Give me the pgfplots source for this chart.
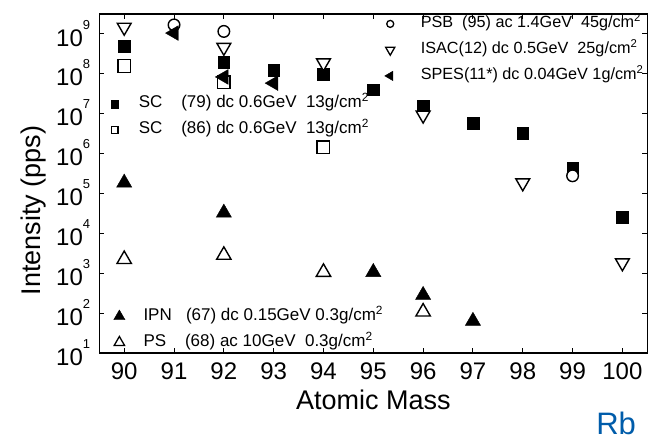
\documentclass[border=0pt]{standalone}
\usepackage{pgfplots}
\pgfplotsset{compat=1.18}
\usepackage{fontspec}
\setmainfont{Liberation Sans}
\definecolor{rbblue}{RGB}{0,92,170}

\begin{document}
\begin{tikzpicture}
\useasboundingbox (-99.3pt,-87pt) rectangle (558.7pt,353pt);

% SC series, frame, ticks and labels
\begin{axis}[scale only axis, width=548pt, height=339pt, at={(0pt,0pt)}, anchor=south west,
  xmin=89.5, xmax=100.5, ymode=log, log basis y=10, ymin=10, ymax=3e9, clip=false,
  legend cell align=left,
  legend style={draw=none, fill=none, inner sep=0pt, column sep=20.5pt,
    font=\fontsize{17}{17}\selectfont, row sep=12pt,
    nodes={inner sep=0pt, text height=11pt, text depth=3pt},
    at={(0.0205,0.756)}, anchor=north west},
  xtick={90,91,92,93,94,95,96,97,98,99,100},
  ytick={1e1,1e2,1e3,1e4,1e5,1e6,1e7,1e8,1e9},
  /pgf/number format/assume math mode=true,
  axis line style={line width=1.3pt},
  tick style={black, line width=0.9pt},
  major tick length=5pt, minor tick length=3pt,
  xticklabel style={font=\fontsize{24}{24}\selectfont, inner sep=0pt, anchor=north, yshift=-10pt},
  yticklabel style={font=\fontsize{24}{24}\selectfont, inner sep=0pt, anchor=east, xshift=-9pt},
  yticklabel={10\raisebox{17pt}{\fontsize{13}{13}\selectfont\pgfmathparse{int(round(\tick))}\pgfmathresult}},
  xlabel={Atomic Mass},
  ylabel={Intensity (pps)},
  xlabel style={font=\fontsize{27}{27}\selectfont, at={(axis description cs:0.5,-0.139)}, anchor=center},
  ylabel style={font=\fontsize{27}{27}\selectfont, at={(axis description cs:-0.12,0.42)}, anchor=center},
]
\addlegendimage{only marks, mark=square*, mark size=3.8pt, mark options={draw=black, fill=black}}
\addlegendentry{SC\ \ \ \ (79) dc 0.6GeV\ \ 13g/cm\textsuperscript{2}}
\addlegendimage{only marks, mark=square*, mark size=3.4pt, mark options={draw=black, fill=white, line width=1.2pt}}
\addlegendentry{SC\ \ \ \ (86) dc 0.6GeV\ \ 13g/cm\textsuperscript{2}}

\addplot[only marks, mark=square*, mark size=5.8pt, mark options={draw=black, fill=black, line width=0.4pt}, forget plot] coordinates {
  (90,4.7e8) (92,1.9e8) (93,1.2e8) (94,9.5e7) (95,3.8e7)
  (96,1.5e7) (97,5.5e6) (98,3.1e6) (99,4.2e5) (100,2.5e4)};
\addplot[only marks, mark=square*, mark size=6.3pt, mark options={draw=black, fill=white, line width=1.4pt}, forget plot] coordinates {
  (90,1.5e8) (92,5.9e7) (94,1.4e6)};

\node[text=rbblue, font=\fontsize{31}{31}\selectfont, anchor=center] at (rel axis cs:0.943,-0.208) {Rb};
\end{axis}

% PSB, ISAC, SPES
\begin{axis}[scale only axis, width=548pt, height=339pt, at={(0pt,0pt)}, anchor=south west,
  xmin=89.5, xmax=100.5, ymode=log, log basis y=10, ymin=10, ymax=3e9, clip=false,
  hide axis, legend cell align=left,
  legend style={draw=none, fill=none, inner sep=0pt, column sep=26pt,
    font=\fontsize{16.2}{16.2}\selectfont, row sep=12pt,
    nodes={inner sep=0pt, text height=11pt, text depth=3pt},
    at={(0.5205,0.992)}, anchor=north west}]
\addlegendimage{only marks, mark=*, mark size=3.5pt, mark options={draw=black, fill=white, line width=1.3pt}}
\addlegendentry{PSB\ \ (95) ac 1.4GeV\ \ 45g/cm\textsuperscript{2}}
\addlegendimage{only marks, mark=triangle*, mark size=5.3pt, mark options={rotate=180, draw=black, fill=white, line width=1.3pt}}
\addlegendentry{ISAC(12) dc 0.5GeV\ \ 25g/cm\textsuperscript{2}}
\addlegendimage{only marks, mark=triangle*, mark size=5.5pt, mark options={rotate=90, draw=black, fill=black}}
\addlegendentry{SPES(11*) dc 0.04GeV 1g/cm\textsuperscript{2}}

\addplot[only marks, mark=*, mark size=5.8pt, mark options={draw=black, fill=white, line width=1.4pt}, forget plot] coordinates {
  (91,1.6e9) (92,1.1e9) (99,2.7e5)};
\addplot[only marks, mark=triangle*, mark size=8pt, mark options={rotate=180, draw=black, fill=white, line width=1.4pt}, forget plot] coordinates {
  (90,1.4e9) (92,4.4e8) (94,1.8e8) (96,8.9e6) (98,1.8e5) (100,1.8e3)};
\addplot[only marks, mark=triangle*, mark size=8.5pt, mark options={rotate=90, draw=black, fill=black, line width=0.4pt}, forget plot] coordinates {
  (91,1.0e9) (92,8.0e7) (93,5.6e7)};
\end{axis}

% IPN, PS
\begin{axis}[scale only axis, width=548pt, height=339pt, at={(0pt,0pt)}, anchor=south west,
  xmin=89.5, xmax=100.5, ymode=log, log basis y=10, ymin=10, ymax=3e9, clip=false,
  hide axis, legend cell align=left,
  legend style={draw=none, fill=none, inner sep=0pt, column sep=18.5pt,
    font=\fontsize{17}{17}\selectfont, row sep=12pt,
    nodes={inner sep=0pt, text height=11pt, text depth=3pt},
    at={(0.026,0.129)}, anchor=north west}]
\addlegendimage{only marks, mark=triangle*, mark size=6.5pt, mark options={draw=black, fill=black}}
\addlegendentry{IPN\ \ \ (67) dc 0.15GeV 0.3g/cm\textsuperscript{2}}
\addlegendimage{only marks, mark=triangle*, mark size=6pt, mark options={draw=black, fill=white, line width=1.3pt}}
\addlegendentry{PS\ \ \ \ (68) ac 10GeV\ \ 0.3g/cm\textsuperscript{2}}

\addplot[only marks, mark=triangle*, mark size=8.8pt, mark options={draw=black, fill=black, line width=0.4pt}, forget plot] coordinates {
  (90,1.8e5) (92,3.2e4) (95,1.05e3) (96,2.8e2) (97,63)};
\addplot[only marks, mark=triangle*, mark size=8.3pt, mark options={draw=black, fill=white, line width=1.4pt}, forget plot] coordinates {
  (90,2.2e3) (92,2.8e3) (94,1.05e3) (96,1.07e2)};
\end{axis}
\end{tikzpicture}
\end{document}
